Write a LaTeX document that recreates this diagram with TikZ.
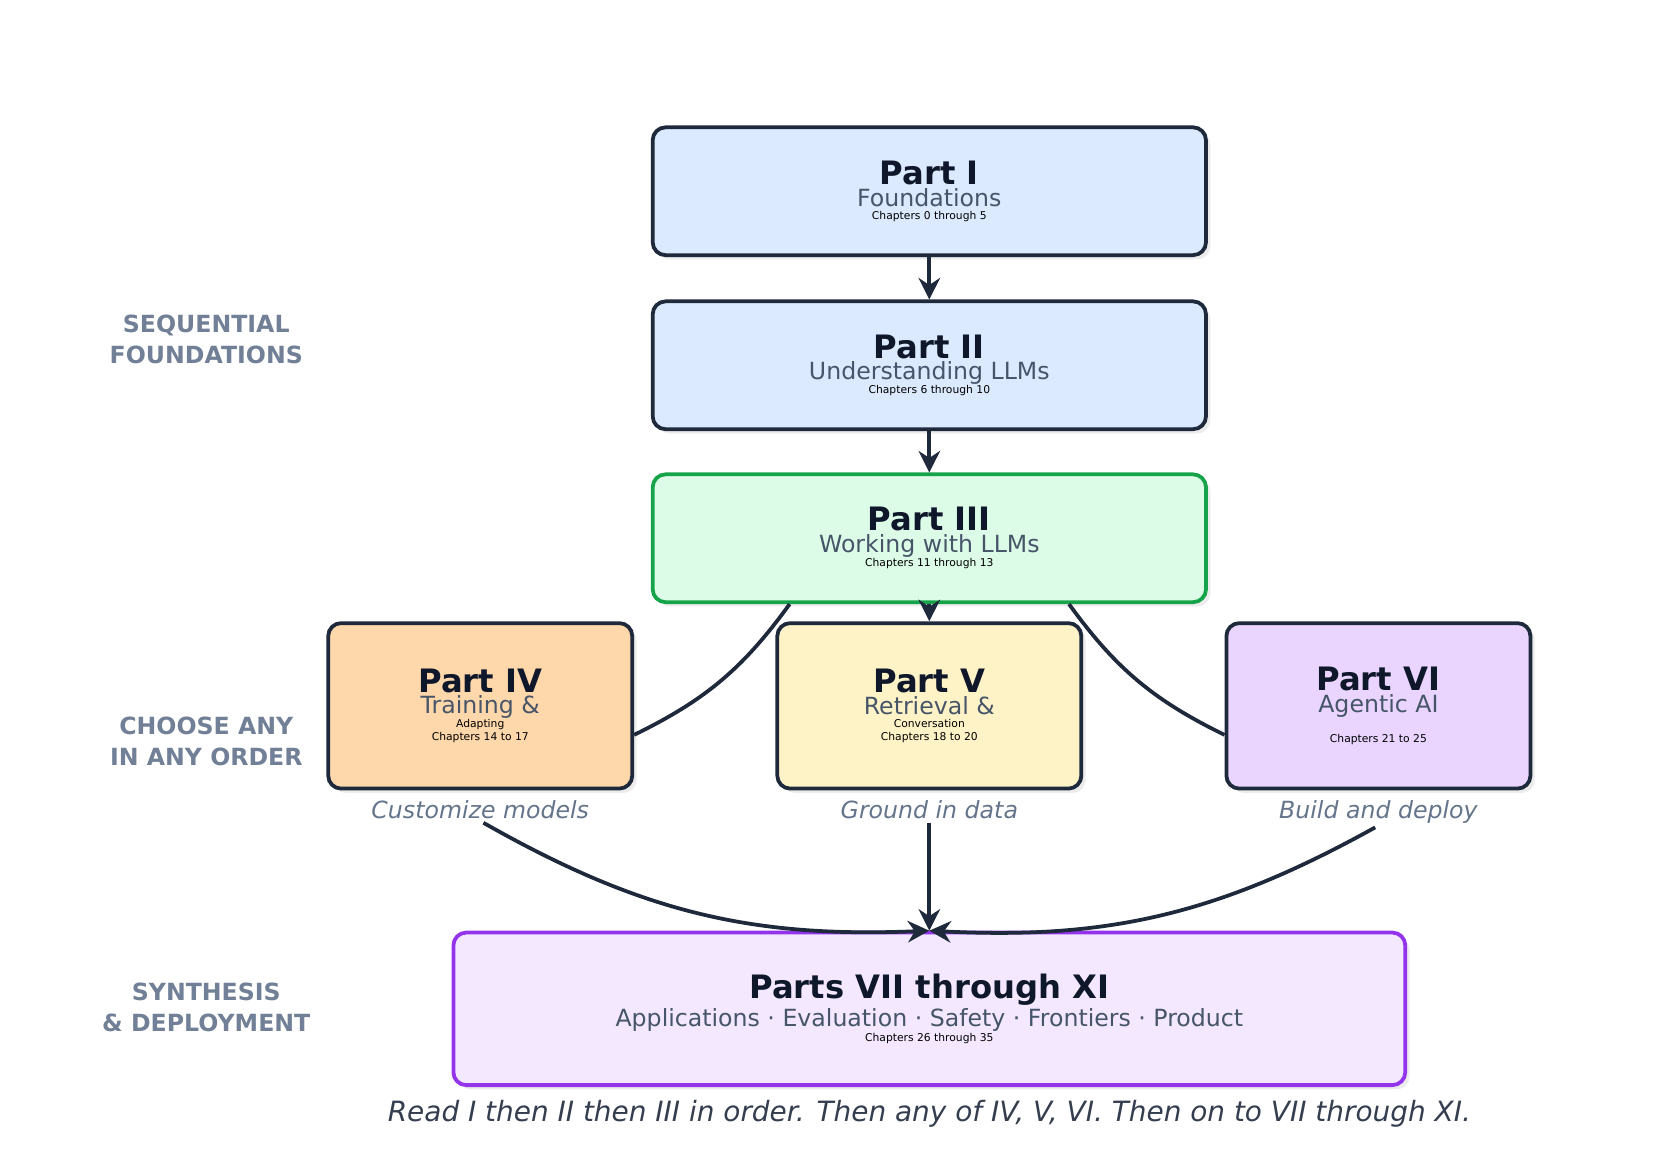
\documentclass[tikz,border=0pt]{standalone}
\usepackage{fontspec}
\setmainfont{DejaVu Sans}
\usetikzlibrary{positioning,arrows.meta}
\definecolor{ink}{HTML}{1E293B}
\definecolor{titleInk}{HTML}{0F172A}
\definecolor{subInk}{HTML}{475569}
\definecolor{sideInk}{HTML}{718096}
\definecolor{capInk}{HTML}{64748B}
\definecolor{blueFill}{HTML}{DBEAFE}
\definecolor{greenFill}{HTML}{DCFCE7}
\definecolor{greenLine}{HTML}{16A34A}
\definecolor{orangeFill}{HTML}{FED7AA}
\definecolor{yellowFill}{HTML}{FEF3C7}
\definecolor{violetFill}{HTML}{E9D5FF}
\definecolor{synFill}{HTML}{F3E8FF}
\definecolor{synLine}{HTML}{9333EA}
\tikzset{
  partbox/.style={draw=ink, line width=3.5pt, rounded corners=12pt, align=center,
    inner sep=0pt, preaction={fill=gray!15, draw=none, transform canvas={shift={(4,4)}}}},
  sidelabel/.style={text=sideInk, font=\fontsize{22}{29}\selectfont\bfseries, align=center},
  caption/.style={text=capInk, font=\fontsize{22}{26}\selectfont\itshape},
  flow/.style={draw=ink, line width=3.5pt, -{Stealth[length=20pt,width=20pt]}},
  curvelink/.style={draw=ink, line width=3.5pt}
}
\newcommand{\parttext}[3]{\fontsize{30}{36}\selectfont\bfseries\color{titleInk}#1\\[2pt]%
  \fontsize{22}{22}\selectfont\mdseries\color{subInk}#2\\#3}
\begin{document}
\begin{tikzpicture}[x=1pt,y=-1pt]
\useasboundingbox (0,0) rectangle (1560,1090);

% sequential parts
\node[partbox, fill=blueFill, minimum width=515pt, minimum height=119pt] (p1) at (865,178)
  {\parttext{Part I}{Foundations}{Chapters 0 through 5}};
\node[partbox, fill=blueFill, minimum width=515pt, minimum height=119pt] (p2) at (865,340)
  {\parttext{Part II}{Understanding LLMs}{Chapters 6 through 10}};
\node[partbox, draw=greenLine, fill=greenFill, minimum width=515pt, minimum height=119pt] (p3) at (865,501)
  {\parttext{Part III}{Working with LLMs}{Chapters 11 through 13}};

% choose any
\node[partbox, fill=orangeFill, minimum width=283pt, minimum height=154pt] (p4) at (447,657)
  {\parttext{Part IV}{Training \&\\Adapting}{Chapters 14 to 17}};
\node[partbox, fill=yellowFill, minimum width=283pt, minimum height=154pt] (p5) at (865,657)
  {\parttext{Part V}{Retrieval \&\\Conversation}{Chapters 18 to 20}};
\node[partbox, fill=violetFill, minimum width=283pt, minimum height=154pt] (p6) at (1283,657)
  {\parttext{Part VI}{Agentic AI\\[4pt]\mbox{}}{Chapters 21 to 25}};

\node[caption, below=6pt of p4] (c4) {Customize models};
\node[caption, below=6pt of p5] (c5) {Ground in data};
\node[caption, below=6pt of p6] (c6) {Build and deploy};

% synthesis
\node[partbox, draw=synLine, fill=synFill, minimum width=886pt, minimum height=142pt] (p7) at (865,939)
  {\parttext{Parts VII through XI}{Applications · Evaluation · Safety · Frontiers · Product}{Chapters 26 through 35}};

% side labels
\node[sidelabel] (s1) at (192,316) {SEQUENTIAL\\FOUNDATIONS};
\node[sidelabel] (s2) at (192,690) {CHOOSE ANY\\IN ANY ORDER};
\node[sidelabel] (s3) at (192,938) {SYNTHESIS\\\& DEPLOYMENT};

% connectors
\draw[flow] (p1.south) -- (p2.north);
\draw[flow] (p2.south) -- (p3.north);
\draw[flow] (p3.south) -- (p5.north);
\draw[curvelink] ([xshift=-130pt]p3.south) to[bend left=14] ([yshift=-27pt]p4.east);
\draw[curvelink] ([xshift=130pt]p3.south) to[bend right=14] ([yshift=-27pt]p6.west);
\draw[flow] ([xshift=3pt]c4.south) to[bend right=16] (p7.north);
\draw[flow] (c5.south) -- (p7.north);
\draw[flow] ([xshift=-3pt]c6.south) to[bend left=16] (p7.north);

\node[text=ink!90, font=\fontsize{26}{30}\selectfont\itshape] (note) at (865,1037)
  {Read I then II then III in order. Then any of IV, V, VI. Then on to VII through XI.};
\end{tikzpicture}
\end{document}
